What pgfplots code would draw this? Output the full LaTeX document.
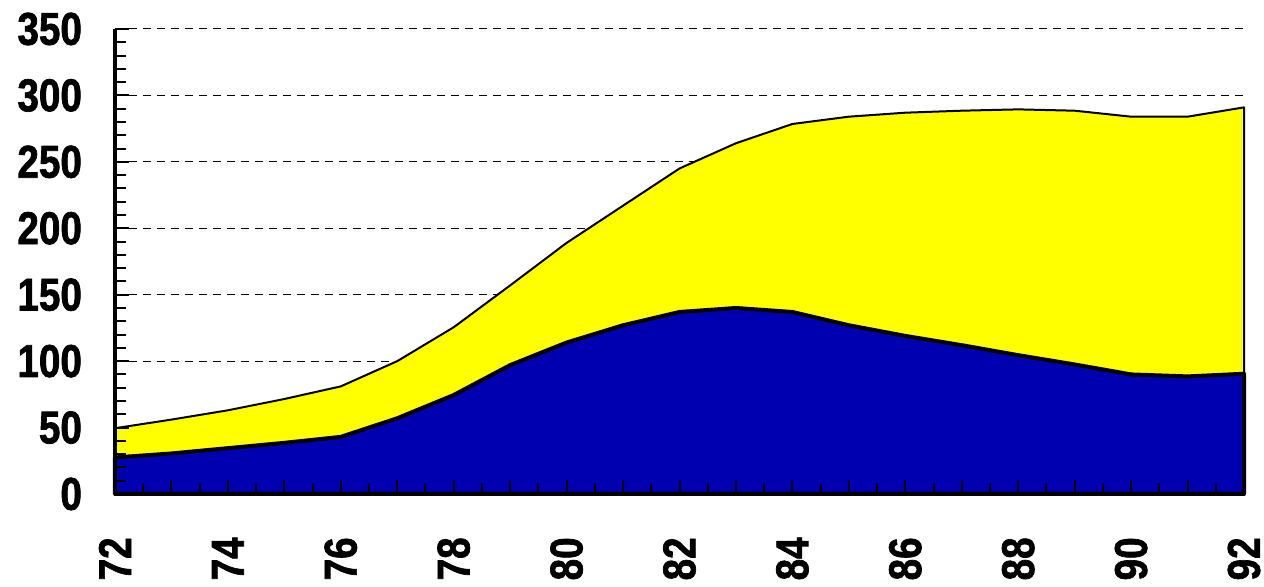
\documentclass[border=0pt]{standalone}
\usepackage{pgfplots}
\pgfplotsset{compat=1.18}
\usepackage{pgfplotstable}
\usepackage{fontspec}
\setmainfont{Liberation Sans}
\newfontfamily\ticksfont{Liberation Sans}[FakeStretch=0.84, BoldFeatures={FakeBold=1.5, FakeStretch=0.84}]
\usetikzlibrary{calc}
\definecolor{areablue}{HTML}{0000B0}
\definecolor{areayellow}{HTML}{FFFF00}
\pgfplotstableread{
x total low
72 49.5 27.5
73 56 30.5
74 63 34.5
75 71.5 38.5
76 81 43
77 100 57
78 125.5 74.5
79 157 97
80 189 114
81 217 127
82 245 137
83 264 140
84 278.5 137
85 284 127
86 287 119
87 288.5 112
88 289.5 104.5
89 288.5 97.5
90 284 90
91 284 88.5
92 291 90.5
}\data
\begin{document}
\begin{tikzpicture}
\pgfplotsset{
  common/.style={
    scale only axis, width=564.5pt, height=232.5pt,
    xmin=72, xmax=92, ymin=0, ymax=350,
    xtick={72,74,...,92}, ytick={0,50,...,350},
  }
}
\begin{axis}[common, name=ax,
  axis line style={draw=none},
  ymajorgrids, major grid style={black, line width=0.5pt, dash pattern=on 4pt off 3pt},
  xticklabels={}, yticklabels={},
  major tick length=0pt, minor tick length=0pt,
  clip=false]
\addplot[fill=areayellow, draw=black, line width=1pt, line join=round] table[x=x,y=total] {\data} \closedcycle;
\addplot[fill=areablue, draw=black, line width=2pt, line join=round] table[x=x,y=low] {\data} \closedcycle;
\end{axis}
\begin{axis}[common, at={(ax.south west)}, anchor=south west,
  axis x line*=bottom, axis y line*=left,
  axis line style={line width=2pt, -},
  tick align=inside,
  xtick={72,73,...,92},
  xticklabels={72,,74,,76,,78,,80,,82,,84,,86,,88,,90,,92},
  minor x tick num=1, minor y tick num=4,
  major tick length=7pt, minor tick length=5.5pt,
  every tick/.style={black, line width=1pt},
  tick label style={font=\ticksfont\fontsize{23}{27}\selectfont\bfseries},
  /pgf/number format/assume math mode=true,
  yticklabel style={xshift=-13pt},
  xticklabel style={yshift=-20.5pt, rotate=90, anchor=east, inner sep=1pt},
]
\end{axis}
\pgfresetboundingbox
\path ($(ax.south west)+(-57.5pt,-46.5pt)$) rectangle ($(ax.north east)+(10pt,14.5pt)$);
\end{tikzpicture}
\end{document}
